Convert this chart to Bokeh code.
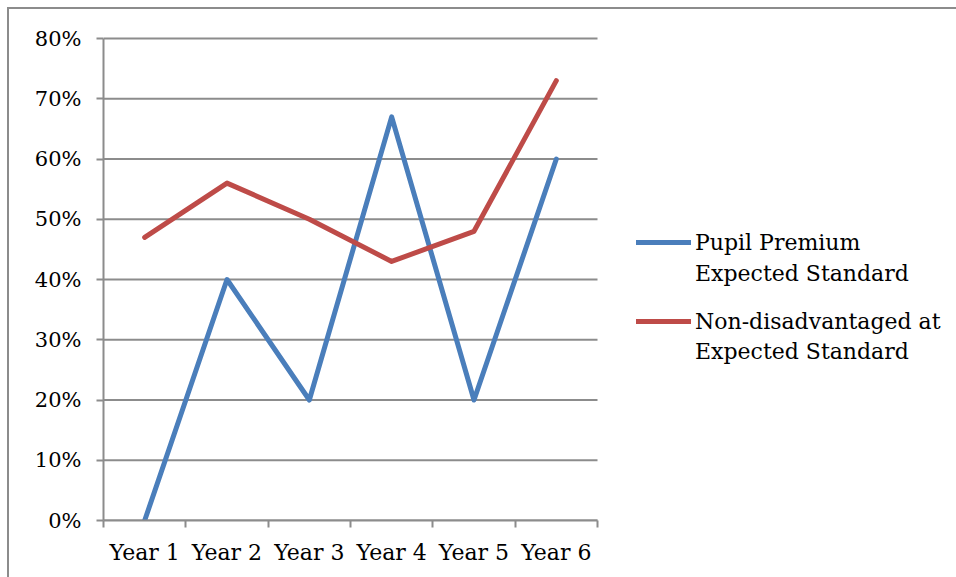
from bokeh.plotting import figure
from bokeh.models import (Range1d, FixedTicker, NumeralTickFormatter, Legend, LegendItem,
                          ColumnDataSource)
from bokeh.embed import file_html
from bokeh.resources import INLINE

categories = ["Year 1", "Year 2", "Year 3", "Year 4", "Year 5", "Year 6"]
pupil_premium = [0.00, 0.40, 0.20, 0.67, 0.20, 0.60]
non_disadvantaged = [0.47, 0.56, 0.50, 0.43, 0.48, 0.73]
y_ticks = [0.0, 0.1, 0.2, 0.3, 0.4, 0.5, 0.6, 0.7, 0.8]
legend_line1 = ["Pupil Premium", "Non-disadvantaged at"]
legend_line2 = ["Expected Standard", "Expected Standard"]

n = len(categories)
xs = [i + 0.5 for i in range(n)]
boundaries = list(range(n + 1))
y_max = y_ticks[-1]

FONT = "DejaVu Serif"
GRID = "#8c8c8c"
CHART_W = 494          # width of the category area in px
CHART_H = 482          # height of the 0..80% area in px
PAD_TOP = 3            # small headroom so the top gridline is not clipped
FRAME_W = 853          # frame extends under the legend area

p = figure(frame_width=FRAME_W, frame_height=CHART_H + PAD_TOP,
           x_range=Range1d(0, n * FRAME_W / CHART_W),
           y_range=Range1d(0, y_max * (CHART_H + PAD_TOP) / CHART_H),
           output_backend="svg", toolbar_location=None,
           min_border_left=94, min_border_top=29 - PAD_TOP, min_border_bottom=57, min_border_right=0)
p.margin = (7, 0, 0, 7)
p.styles = {"border-top": "2px solid #8c8c8c", "border-left": "2px solid #8c8c8c"}
p.outline_line_color = None
p.background_fill_color = "white"
p.border_fill_color = "white"

# horizontal gridlines limited to the category area
p.xgrid.visible = False
p.ygrid.visible = False
p.segment(x0=0, x1=n, y0=y_ticks, y1=y_ticks, line_color=GRID, line_width=2)

src = ColumnDataSource(dict(x=xs, pp=pupil_premium, nd=non_disadvantaged))
r1 = p.line("x", "pp", source=src, line_color="#4a7ebb", line_width=5, line_cap="round", line_join="round")
r2 = p.line("x", "nd", source=src, line_color="#be4b48", line_width=5, line_cap="round", line_join="round")
d1 = p.line(x=[], y=[], line_alpha=0)
d2 = p.line(x=[], y=[], line_alpha=0)

# x axis
xa = p.xaxis[0]
xa.bounds = (0, n)
xa.ticker = FixedTicker(ticks=xs, minor_ticks=boundaries)
xa.major_label_overrides = {x: c for x, c in zip(xs, categories)}
xa.major_tick_line_color = None
xa.minor_tick_out = 7
xa.minor_tick_in = 0
xa.minor_tick_line_color = GRID
xa.minor_tick_line_width = 2
xa.axis_line_color = GRID
xa.axis_line_width = 2
xa.major_label_text_font = FONT
xa.major_label_text_font_size = "22px"
xa.major_label_text_color = "black"
xa.major_label_standoff = 12

# y axis
ya = p.yaxis[0]
ya.bounds = (0, y_max)
ya.ticker = FixedTicker(ticks=y_ticks, minor_ticks=[])
ya.formatter = NumeralTickFormatter(format="0%")
ya.major_tick_out = 7
ya.major_tick_in = 0
ya.major_tick_line_color = GRID
ya.major_tick_line_width = 2
ya.minor_tick_line_color = None
ya.axis_line_color = GRID
ya.axis_line_width = 2
ya.major_label_text_font = FONT
ya.major_label_text_font_size = "21px"
ya.major_label_text_color = "black"
ya.major_label_standoff = 15

common = dict(glyph_width=55, glyph_height=30, label_height=30, label_standoff=4,
              padding=0, margin=0, border_line_color=None, background_fill_alpha=0,
              label_text_font=FONT, label_text_font_size="22px", label_text_color="black")

legend1 = Legend(items=[LegendItem(label=legend_line1[0], renderers=[r1]),
                        LegendItem(label=legend_line1[1], renderers=[r2])],
                 location=(533, 184), spacing=49, **common)
legend2 = Legend(items=[LegendItem(label=legend_line2[0], renderers=[d1]),
                        LegendItem(label=legend_line2[1], renderers=[d2])],
                 location=(533, 154), spacing=48, **common)
p.add_layout(legend1, "center")
p.add_layout(legend2, "center")

open("out.html", "w").write(file_html(p, INLINE))
